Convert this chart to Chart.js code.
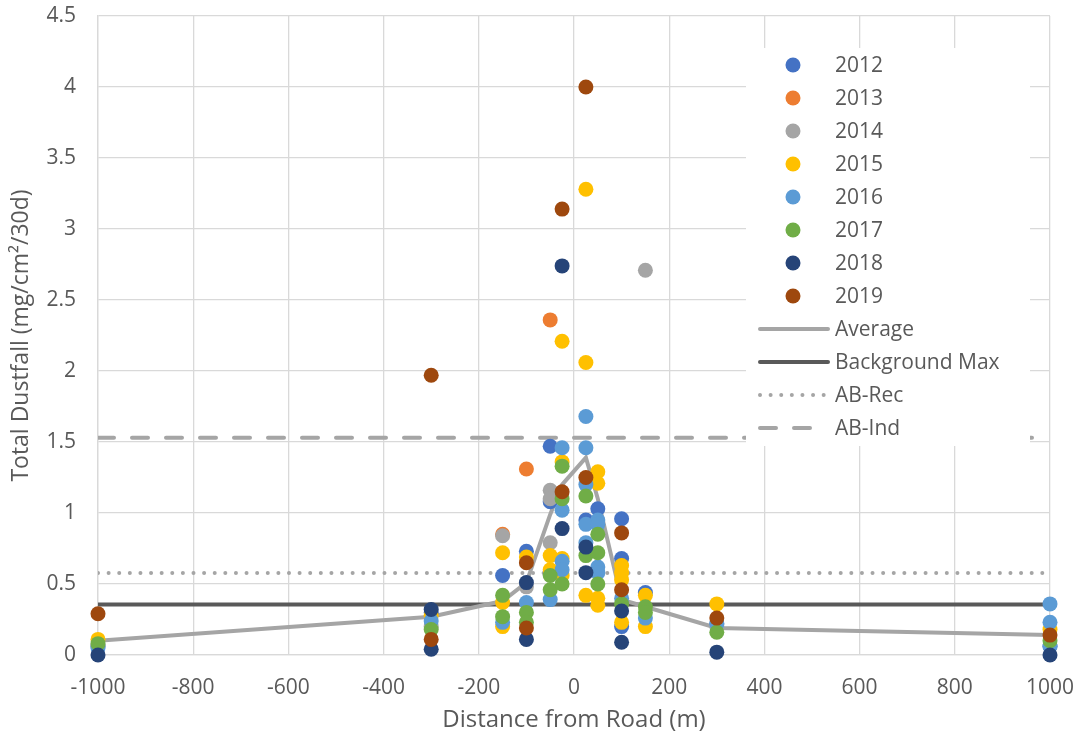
<!DOCTYPE html>
<html>
<head>
<meta charset="utf-8">
<script src="https://cdn.jsdelivr.net/npm/chart.js@4"></script>
<style>
  html, body { margin: 0; padding: 0; background: #fff; }
  #wrap { width: 1078px; height: 740px; }
</style>
</head>
<body>
<div id="wrap"><canvas id="dust"></canvas></div>
<script>
// distances (m) used by the average line
const distances = [-1000, -300, -150, -100, -50, -25, 25, 50, 100, 150, 300, 1000];
const averageVals = [0.10, 0.27, 0.38, 0.51, 0.99, 1.20, 1.39, 1.10, 0.39, 0.34, 0.19, 0.14];

// sampled points per year, [distance, dustfall]
const y2012 = [[-1000, 0.06], [-300, 0.30], [-150, 0.56], [-100, 0.73], [-50, 1.47], [-50, 1.08], [25, 0.95],
  [50, 1.03], [100, 0.96], [100, 0.68], [100, 0.20], [150, 0.44], [300, 0.22], [1000, 0.06]];
const y2013 = [[-150, 0.85], [-100, 1.31], [-50, 2.36]];
const y2014 = [[-1000, 0.07], [-300, 0.20], [-150, 0.84], [-100, 0.48], [-50, 1.16], [-50, 1.10], [-50, 0.79],
  [150, 2.71], [300, 0.20]];
const y2015 = [[-1000, 0.11], [-300, 0.28], [-150, 0.72], [-150, 0.37], [-150, 0.20], [-100, 0.69], [-50, 0.70],
  [-50, 0.60], [-25, 2.21], [-25, 1.36], [-25, 0.68], [-25, 0.56], [25, 3.28], [25, 2.06], [25, 0.42],
  [50, 1.29], [50, 1.21], [50, 0.40], [50, 0.35], [100, 0.63], [100, 0.58], [100, 0.53], [100, 0.23],
  [150, 0.42], [150, 0.20], [300, 0.36], [1000, 0.18]];
const y2016 = [[-1000, 0.05], [-300, 0.24], [-150, 0.23], [-100, 0.37], [-50, 0.39], [-25, 1.46], [-25, 1.02],
  [-25, 0.66], [-25, 0.60], [25, 1.68], [25, 1.46], [25, 1.20], [25, 0.92], [25, 0.79], [50, 0.95], [50, 0.92],
  [50, 0.62], [50, 0.58], [100, 0.40], [150, 0.26], [300, 0.22], [1000, 0.36], [1000, 0.23], [1000, 0.06]];
const y2017 = [[-1000, 0.08], [-300, 0.18], [-150, 0.42], [-150, 0.27], [-100, 0.30], [-100, 0.23], [-50, 0.56],
  [-50, 0.46], [-25, 1.33], [-25, 1.10], [-25, 0.50], [25, 1.12], [25, 0.70], [50, 0.85], [50, 0.72], [50, 0.50],
  [100, 0.36], [150, 0.34], [150, 0.30], [300, 0.16], [1000, 0.10]];
const y2018 = [[-1000, 0.00], [-300, 0.32], [-300, 0.04], [-100, 0.51], [-100, 0.11], [-25, 2.74], [-25, 0.89],
  [25, 0.76], [25, 0.58], [100, 0.31], [100, 0.09], [300, 0.02], [1000, 0.00]];
const y2019 = [[-1000, 0.29], [-300, 1.97], [-300, 0.11], [-100, 0.65], [-100, 0.19], [-25, 3.14], [-25, 1.15],
  [25, 4.00], [25, 1.25], [100, 0.86], [100, 0.46], [300, 0.26], [1000, 0.14]];

const years = ['2012', '2013', '2014', '2015', '2016', '2017', '2018', '2019'];
const yearData = [y2012, y2013, y2014, y2015, y2016, y2017, y2018, y2019];
const yearColors = ['#4472C4', '#ED7D31', '#A5A5A5', '#FFC000', '#5B9BD5', '#70AD47', '#264478', '#9E480E'];

const backgroundMax = 0.355;
const abRec = 0.577;
const abInd = 1.53;
const xRange = [-1000, 1000];

const TXT = '#595959';
const FONT = '"Open Sans", sans-serif';

const toXY = arr => arr.map(p => ({ x: p[0], y: p[1] }));
const hline = v => xRange.map(x => ({ x: x, y: v }));

const datasets = years.map((yr, i) => ({
  label: yr,
  data: toXY(yearData[i]),
  backgroundColor: yearColors[i],
  borderColor: yearColors[i],
  pointRadius: 7.5,
  pointBorderWidth: 0,
  showLine: false,
  clip: false,
  order: 10 - i,
}));

datasets.push({
  label: 'Average',
  data: distances.map((d, i) => ({ x: d, y: averageVals[i] })),
  borderColor: '#A5A5A5', borderWidth: 4, pointRadius: 0, showLine: true, order: 20,
});
datasets.push({
  label: 'Background Max',
  data: hline(backgroundMax),
  borderColor: '#595959', borderWidth: 4, pointRadius: 0, showLine: true, order: 21,
});
datasets.push({
  label: 'AB-Rec',
  data: hline(abRec),
  borderColor: '#A5A5A5', borderWidth: 4, borderDash: [0.01, 10.6], borderCapStyle: 'round',
  pointRadius: 0, showLine: true, order: 22,
});
datasets.push({
  label: 'AB-Ind',
  data: hline(abInd),
  borderColor: '#A5A5A5', borderWidth: 4, borderDash: [16, 18], borderCapStyle: 'round',
  pointRadius: 0, showLine: true, order: 23,
});

// legend drawn inside the plot, Excel style
const boxLegend = {
  id: 'boxLegend',
  afterDatasetsDraw(chart) {
    const c = chart.ctx;
    c.save();
    c.fillStyle = '#fff';
    c.fillRect(746, 48, 284, 398);
    c.font = '21px ' + FONT;
    c.textBaseline = 'middle';
    chart.data.datasets.forEach((ds, i) => {
      const y = 65 + i * 33;
      if (!ds.showLine) {
        c.fillStyle = ds.backgroundColor;
        c.beginPath();
        c.arc(793, y, 7.5, 0, Math.PI * 2);
        c.fill();
      } else {
        c.strokeStyle = ds.borderColor;
        c.lineWidth = ds.borderWidth;
        c.lineCap = ds.borderCapStyle || 'round';
        c.setLineDash(ds.borderDash || []);
        c.beginPath();
        c.moveTo(760, y);
        c.lineTo(828, y);
        c.stroke();
        c.setLineDash([]);
      }
      c.fillStyle = TXT;
      c.fillText(ds.label, 835, y + 1);
    });
    c.restore();
  }
};

new Chart(document.getElementById('dust'), {
  type: 'scatter',
  data: { datasets: datasets },
  plugins: [boxLegend],
  options: {
    responsive: true,
    maintainAspectRatio: false,
    animation: false,
    layout: { padding: { top: 16, right: 28, left: 0, bottom: 0 } },
    plugins: {
      legend: { display: false },
      tooltip: { enabled: false },
    },
    scales: {
      x: {
        type: 'linear',
        min: -1000, max: 1000,
        grid: { color: '#D9D9D9', lineWidth: 1.3, drawTicks: true, tickLength: 20, tickColor: 'rgba(0,0,0,0)' },
        border: { color: '#D9D9D9', width: 1.3 },
        ticks: { stepSize: 200, color: TXT, font: { family: FONT, size: 21 }, padding: 0,
          callback: v => String(v) },
        title: { display: true, text: 'Distance from Road (m)', color: TXT,
          font: { family: FONT, size: 24 }, padding: { top: 0, bottom: 5 } },
        afterFit: s => { s.height = 85; },
      },
      y: {
        min: 0, max: 4.5,
        grid: { color: '#D9D9D9', lineWidth: 1.3, drawTicks: true, tickLength: 22, tickColor: 'rgba(0,0,0,0)' },
        border: { color: '#D9D9D9', width: 1.3 },
        ticks: { stepSize: 0.5, color: TXT, font: { family: FONT, size: 21 }, padding: 0,
          callback: v => String(v) },
        title: { display: true, text: 'Total Dustfall (mg/cm²/30d)', color: TXT,
          font: { family: FONT, size: 23 }, padding: 8 },
        afterFit: s => { s.width = 98; },
      }
    }
  }
});
</script>
</body>
</html>
